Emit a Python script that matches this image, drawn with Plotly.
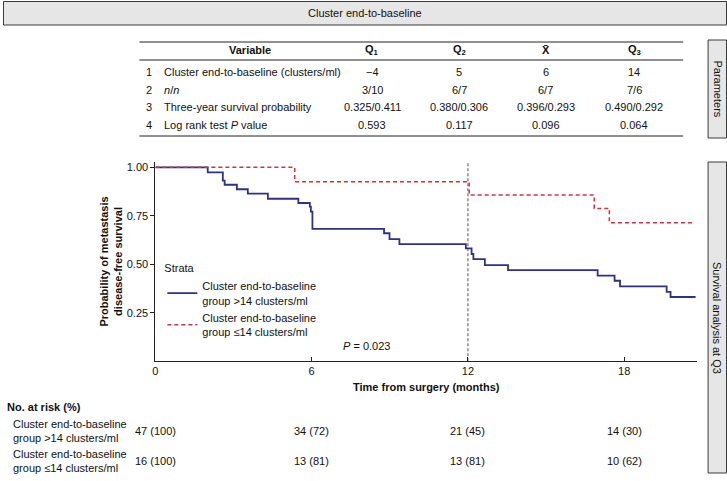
import plotly.graph_objects as go

W, H = 727, 481
FONT = "Liberation Sans, Arial, Helvetica, sans-serif"

# ---------------- data ----------------
blue_time = [0, 2.01, 2.59, 2.66, 3.13, 3.55, 4.32, 5.49, 5.93, 5.97, 6.03, 8.78, 8.99, 9.37,
             11.92, 12.14, 12.21, 12.65, 13.54, 16.98, 17.63, 17.84, 19.63, 19.78, 20.74]
blue_surv = [1.0, 0.974, 0.931, 0.910, 0.887, 0.864, 0.838, 0.816, 0.797, 0.771, 0.682, 0.660, 0.630, 0.604,
             0.582, 0.553, 0.526, 0.496, 0.470, 0.441, 0.415, 0.386, 0.358, 0.331, 0.331]

red_time = [0, 5.35, 12.05, 16.85, 17.43, 20.70]
red_surv = [1.0, 0.926, 0.857, 0.788, 0.714, 0.714]

strata_names = ["Cluster end-to-baseline<br>group >14 clusters/ml",
                "Cluster end-to-baseline<br>group ≤14 clusters/ml"]

table_header = ["Variable", "Q<sub>1</sub>", "Q<sub>2</sub>", "X\u0304", "Q<sub>3</sub>"]
table_rownum = ["1", "2", "3", "4"]
table_vars = ["Cluster end-to-baseline (clusters/ml)", "<i>n</i>/<i>n</i>",
              "Three-year survival probability", "Log rank test <i>P</i> value"]
col_q1 = ["\u22124", "3/10", "0.325/0.411", "0.593"]
col_q2 = ["5", "6/7", "0.380/0.306", "0.117"]
col_xbar = ["6", "6/7", "0.396/0.293", "0.096"]
col_q3 = ["14", "7/6", "0.490/0.292", "0.064"]

risk_times = [0, 6, 12, 18]
risk_hi = ["47 (100)", "34 (72)", "21 (45)", "14 (30)"]
risk_lo = ["16 (100)", "13 (81)", "13 (81)", "10 (62)"]

x_ticks = [0, 6, 12, 18]
y_ticks = [0.25, 0.50, 0.75, 1.00]
y_ticktext = ["0.25", "0.50", "0.75", "1.00"]
landmark = 12
p_text = "<i>P</i> = 0.023"

# ---------------- helpers ----------------
def px(x):
    return x / W

def py(y):
    return 1 - y / H

BLUE = "#2e3188"
RED = "#cc3340"
TXT = "#111"

def note(x, y, text, xanchor="center", **kw):
    d = dict(xref="paper", yref="paper", x=px(x), y=py(y), text=text, showarrow=False,
             xanchor=xanchor, yanchor="middle", font=dict(size=11, color=TXT))
    d.update(kw)
    return d

fig = go.Figure()
fig.add_trace(go.Scatter(x=blue_time, y=blue_surv, mode="lines", line_shape="hv",
                         line=dict(color=BLUE, width=1.8), name=strata_names[0]))
fig.add_trace(go.Scatter(x=red_time, y=red_surv, mode="lines", line_shape="hv",
                         line=dict(color=RED, width=1.5, dash="4px,3px"), name=strata_names[1]))

shapes = []
annotations = []

# title bar
shapes.append(dict(type="rect", xref="paper", yref="paper", x0=px(0.5), x1=px(726.5), y0=py(25), y1=py(1.5),
                   fillcolor="#e6e6e6", line=dict(color="#3a3a3a", width=1), layer="below"))
annotations.append(note(363, 13, "Cluster end-to-baseline"))

# right strips
for (y0, y1, label) in [(40, 138, "Parameters"), (162, 473, "Survival analysis at Q3")]:
    shapes.append(dict(type="rect", xref="paper", yref="paper", x0=px(708), x1=px(726.5), y0=py(y1), y1=py(y0),
                       fillcolor="#e6e6e6", line=dict(color="#3a3a3a", width=1), layer="below"))
    annotations.append(note(717.5, (y0 + y1) / 2, label, textangle=90))

# parameter table rules
for yy in [42, 60, 136]:
    shapes.append(dict(type="line", xref="paper", yref="paper", x0=px(137), x1=px(683), y0=py(yy), y1=py(yy),
                       line=dict(color="#222", width=1)))

col_x = [248, 371, 458, 545, 634]
header_y = 50
row_y = [71.5, 89.5, 107.3, 125]
for cx, htxt in zip(col_x, table_header):
    annotations.append(note(cx, header_y, "<b>" + htxt + "</b>"))
for i, ry in enumerate(row_y):
    annotations.append(note(147, ry, table_rownum[i]))
    annotations.append(note(160, ry, table_vars[i], xanchor="left"))
    for cx, col in zip(col_x[1:], [col_q1, col_q2, col_xbar, col_q3]):
        annotations.append(note(cx, ry, col[i]))

# landmark line
shapes.append(dict(type="line", xref="x", yref="y", x0=landmark, x1=landmark, y0=0, y1=1.03,
                   line=dict(color="#8a8a8a", width=1.5, dash="3px,2px"), layer="below"))

# p-value
annotations.append(dict(xref="x", yref="y", x=8.1, y=0.078, text=p_text, showarrow=False,
                        xanchor="center", yanchor="middle", font=dict(size=11, color=TXT)))

# y-axis title
annotations.append(note(108, 262, "<b>Probability of metastasis<br>disease-free survival</b>", textangle=-90))

# number at risk
annotations.append(note(2, 407, "<b>No. at risk (%)</b>", xanchor="left"))
for ry, vals, name in [(431, risk_hi, strata_names[0]), (461, risk_lo, strata_names[1])]:
    annotations.append(note(8, ry, name, xanchor="left", align="left"))
    for t, v in zip(risk_times, vals):
        annotations.append(dict(xref="x", yref="paper", x=t, y=py(ry), text=v, showarrow=False,
                                xanchor="center", yanchor="middle", font=dict(size=11, color=TXT)))

fig.update_layout(
    width=W, height=H,
    margin=dict(l=0, r=0, t=0, b=0),
    paper_bgcolor="white", plot_bgcolor="white",
    font=dict(family=FONT, size=11, color=TXT),
    shapes=shapes, annotations=annotations,
    showlegend=True,
    legend=dict(x=px(160), y=py(258), xanchor="left", yanchor="top",
                title=dict(text="Strata", font=dict(size=11)),
                font=dict(size=11), bgcolor="rgba(0,0,0,0)", tracegroupgap=2),
    xaxis=dict(domain=[px(153), px(697)], range=[0, 20.8], tickvals=x_ticks,
               ticks="inside", ticklen=4, tickcolor="#222", showline=True, linecolor="#222", linewidth=1,
               showgrid=False, zeroline=False, tickfont=dict(size=11),
               title=dict(text="<b>Time from surgery (months)</b>", standoff=6, font=dict(size=11))),
    yaxis=dict(domain=[1 - 361.2 / H, 1 - 161.5 / H], range=[0, 1.03], tickvals=y_ticks, ticktext=y_ticktext,
               ticks="outside", ticklen=4, tickcolor="#222", showline=True, linecolor="#222", linewidth=1,
               showgrid=False, zeroline=False, tickfont=dict(size=11)),
)

fig.write_html("out.html", config={"displayModeBar": False},
               post_script="document.body.style.margin='0px';document.body.style.overflow='hidden';")
